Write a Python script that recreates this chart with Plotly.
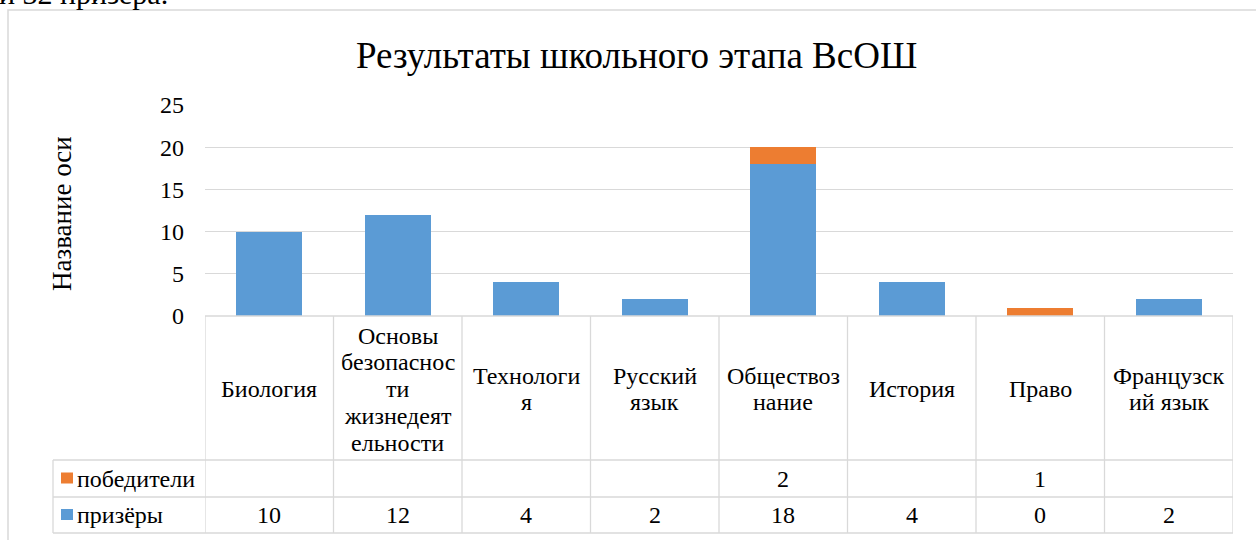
import plotly.graph_objects as go

categories = ["Биология", "Основы<br>безопаснос<br>ти<br>жизнедеят<br>ельности", "Технологи<br>я",
              "Русский<br>язык", "Обществоз<br>нание", "История", "Право", "Французск<br>ий язык"]
prizers = [10, 12, 4, 2, 18, 4, 0, 2]
winners = [None, None, None, None, 2, None, 1, None]
series_names = ["победители", "призёры"]
y_ticks = [0, 5, 10, 15, 20, 25]
title_text = "Результаты школьного этапа ВсОШ"
y_title = "Название оси"
preceding_text = "и 32 призера."

W, H = 1256, 540
L, R, T, B = 205, 1233, 105, 316
BLUE, ORANGE, GRID = "#5B9BD5", "#ED7D31", "#D9D9D9"
FONT = "Liberation Serif"
FS = 24

def py(p):
    return (B - p) / (B - T)

def pxx(p):
    return (p - L) / (R - L)

n = len(categories)
xs = list(range(n))

fig = go.Figure()
fig.add_trace(go.Bar(x=xs, y=prizers, name=series_names[1], marker_color=BLUE, marker_line_width=0))
fig.add_trace(go.Bar(x=xs, y=[w if w is not None else 0 for w in winners], name=series_names[0],
                     marker_color=ORANGE, marker_line_width=0))

shapes = []
annotations = []

HDR_TOP, HDR_BOT, ROW1_BOT, ROW2_BOT = 316, 460, 497, 533
TLEFT = 53
line = dict(color=GRID, width=1.3)
shapes.append(dict(type="line", xref="paper", yref="paper", x0=0, x1=1, y0=py(HDR_TOP), y1=py(HDR_TOP), line=line))
for yy in (HDR_BOT, ROW1_BOT, ROW2_BOT):
    shapes.append(dict(type="line", xref="paper", yref="paper", x0=pxx(TLEFT), x1=1, y0=py(yy), y1=py(yy), line=line))
for i in range(n + 1):
    shapes.append(dict(type="line", xref="x", yref="paper", x0=i - 0.5, x1=i - 0.5,
                       y0=py(HDR_TOP), y1=py(ROW2_BOT), line=line))
shapes.append(dict(type="line", xref="paper", yref="paper", x0=pxx(TLEFT), x1=pxx(TLEFT),
                   y0=py(HDR_BOT), y1=py(ROW2_BOT), line=line))
# outer chart border
shapes.append(dict(type="rect", xref="paper", yref="paper", x0=pxx(8), x1=pxx(1262), y0=py(10), y1=py(548),
                   line=dict(color="#D9D9D9", width=1.5), fillcolor="rgba(0,0,0,0)", layer="below"))

# legend keys in the table
for (top, bot), col in (((HDR_BOT, ROW1_BOT), ORANGE), ((ROW1_BOT, ROW2_BOT), BLUE)):
    mid = (top + bot) / 2
    shapes.append(dict(type="rect", xref="paper", yref="paper", x0=pxx(61), x1=pxx(73),
                       y0=py(mid - 6), y1=py(mid + 5), fillcolor=col, line_width=0))

txt = dict(family=FONT, size=FS, color="#000")
# header labels, one line at a time
LINE_H = 26.75
hmid = (HDR_TOP + HDR_BOT) / 2
for i, c in enumerate(categories):
    parts = c.split("<br>")
    k = len(parts)
    for j, part in enumerate(parts):
        yc = hmid + (j - (k - 1) / 2) * LINE_H
        annotations.append(dict(x=i, y=py(yc + 1), xref="x", yref="paper", text=part,
                                showarrow=False, font=txt, xanchor="center", yanchor="middle"))
# row labels
for name, (top, bot) in ((series_names[0], (HDR_BOT, ROW1_BOT)), (series_names[1], (ROW1_BOT, ROW2_BOT))):
    annotations.append(dict(x=pxx(75), y=py((top + bot) / 2), xref="paper", yref="paper", text=name,
                            showarrow=False, xanchor="left", yanchor="middle", font=txt))
# values
r1 = (HDR_BOT + ROW1_BOT) / 2
r2 = (ROW1_BOT + ROW2_BOT) / 2
for i in range(n):
    if winners[i] is not None:
        annotations.append(dict(x=i, y=py(r1), xref="x", yref="paper", text=str(winners[i]),
                                showarrow=False, xanchor="center", yanchor="middle", font=txt))
    annotations.append(dict(x=i, y=py(r2), xref="x", yref="paper", text=str(prizers[i]),
                            showarrow=False, xanchor="center", yanchor="middle", font=txt))
# y title
annotations.append(dict(x=pxx(62), y=py(214), xref="paper", yref="paper", text=y_title, textangle=-90,
                        showarrow=False, xanchor="center", yanchor="middle",
                        font=dict(family=FONT, size=27, color="#000")))
# title
annotations.append(dict(x=pxx(636), y=py(55), xref="paper", yref="paper", text=title_text,
                        showarrow=False, xanchor="center", yanchor="middle",
                        font=dict(family=FONT, size=37, color="#000")))
# cropped preceding document text
annotations.append(dict(x=pxx(-3), y=py(12), xref="paper", yref="paper", text=preceding_text,
                        showarrow=False, xanchor="left", yanchor="bottom",
                        font=dict(family=FONT, size=30, color="#000")))

fig.update_layout(
    width=W, height=H, barmode="stack", bargap=0.486,
    margin=dict(l=L, r=W - R, t=T, b=H - B, pad=0),
    paper_bgcolor="white", plot_bgcolor="white", showlegend=False,
    shapes=shapes, annotations=annotations,
    xaxis=dict(range=[-0.5, n - 0.5], showticklabels=False, showgrid=False, zeroline=False, showline=False),
    yaxis=dict(range=[0, 25], tickvals=y_ticks, showgrid=True, gridcolor=GRID, gridwidth=1.3,
               zeroline=False, showline=False, ticklabelstandoff=20,
               tickfont=dict(family=FONT, size=FS, color="#000")),
)
fig.write_html("out.html", config={"displayModeBar": False},
               post_script="document.body.style.margin='0';document.body.style.overflow='hidden';")
